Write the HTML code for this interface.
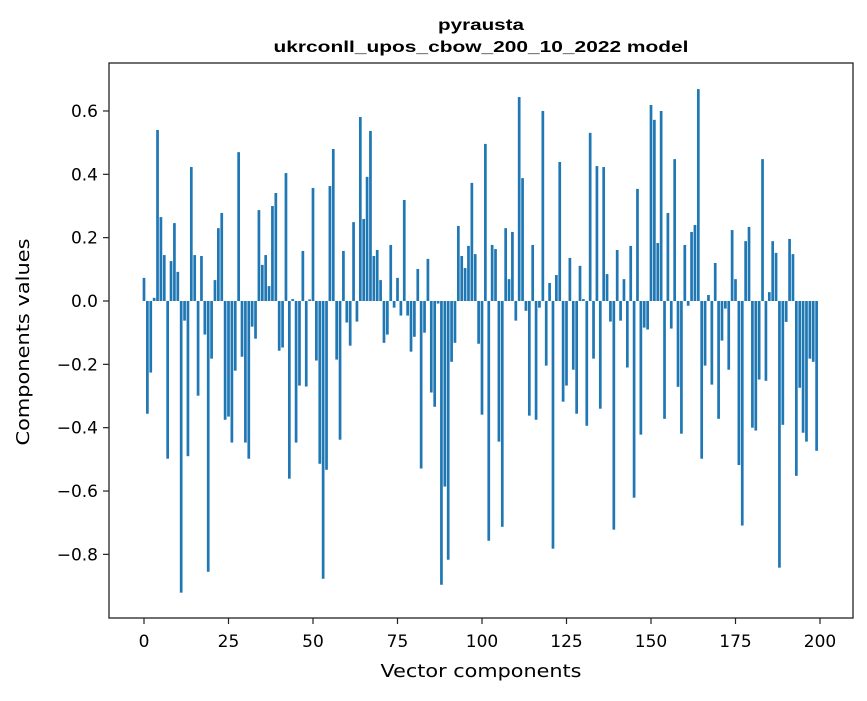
<!DOCTYPE html>
<html><head><meta charset="utf-8"><style>
body{margin:0;background:#fff;}
svg text{font-family:"DejaVu Sans","Liberation Sans",sans-serif;fill:#000;}
svg text.title{font-family:"Liberation Sans","DejaVu Sans",sans-serif;font-weight:bold;}
</style></head><body>
<svg id="chart" width="867" height="696" xmlns="http://www.w3.org/2000/svg">
<rect width="867" height="696" fill="#fff"/>
<text class="title" x="481" y="30" text-anchor="middle" font-size="15.5" textLength="86" lengthAdjust="spacingAndGlyphs">pyrausta</text>
<text class="title" x="481" y="52" text-anchor="middle" font-size="15.5" textLength="415" lengthAdjust="spacingAndGlyphs">ukrconll_upos_cbow_200_10_2022 model</text>
<g id="bars"></g>
<rect x="109" y="63" width="744" height="555" fill="none" stroke="#222" stroke-width="1.3"/>
<g id="xticks"></g>
<g id="yticks"></g>
<text x="481" y="677" text-anchor="middle" font-size="18" textLength="201" lengthAdjust="spacingAndGlyphs">Vector components</text>
<text transform="translate(29,342) rotate(-90)" text-anchor="middle" font-size="18" textLength="207" lengthAdjust="spacingAndGlyphs">Components values</text>
</svg>
<script>
const values = [0.073,-0.356,-0.226,0.01,0.54,0.265,0.145,-0.498,0.126,0.246,
0.092,-0.921,-0.062,-0.49,0.423,0.145,-0.299,0.142,-0.106,-0.855,
-0.182,0.066,0.23,0.278,-0.375,-0.365,-0.447,-0.22,0.47,-0.176,
-0.447,-0.498,-0.081,-0.119,0.287,0.114,0.145,0.047,0.3,0.341,
-0.157,-0.147,0.404,-0.561,0.006,-0.447,-0.267,0.158,-0.27,0.005,
0.357,-0.188,-0.514,-0.877,-0.533,0.363,0.48,-0.185,-0.438,0.158,
-0.068,-0.141,0.249,-0.065,0.581,0.259,0.392,0.537,0.142,0.161,
0.066,-0.132,-0.106,0.177,-0.021,0.073,-0.046,0.319,-0.046,-0.16,
-0.113,0.101,-0.529,-0.1,0.133,-0.289,-0.334,-0.008,-0.896,-0.586,
-0.817,-0.192,-0.132,0.237,0.142,0.104,0.174,0.373,0.148,-0.135,
-0.359,0.496,-0.757,0.177,0.164,-0.444,-0.713,0.23,0.069,0.218,
-0.062,0.644,0.388,-0.031,-0.362,0.177,-0.375,-0.021,0.6,-0.204,
0.057,-0.782,0.082,0.439,-0.318,-0.267,0.136,-0.217,-0.356,0.111,
0.006,-0.394,0.531,-0.182,0.426,-0.34,0.423,0.085,-0.065,-0.722,
0.161,-0.062,0.069,-0.21,0.174,-0.621,0.354,-0.422,-0.084,-0.09,
0.619,0.572,0.183,0.6,-0.372,0.278,-0.087,0.448,-0.271,-0.419,
0.177,-0.015,0.218,0.24,0.669,-0.498,-0.204,0.019,-0.264,0.12,
-0.372,-0.125,-0.024,-0.217,0.224,0.069,-0.518,-0.709,0.189,0.234,
-0.4,-0.409,-0.248,0.448,-0.252,0.028,0.189,0.152,-0.842,-0.391,
-0.066,0.196,0.148,-0.552,-0.274,-0.416,-0.444,-0.182,-0.192,-0.473];
const xTickValues = [0,25,50,75,100,125,150,175,200];
const yTickValues = [-0.8,-0.6,-0.4,-0.2,0.0,0.2,0.4,0.6];

const NS = "http://www.w3.org/2000/svg";
function xs(i){ return 144 + i*3.38; }
function ys(v){ return 301 - v*316.7; }

const bars = document.getElementById('bars');
values.forEach((v,i)=>{
  const r = document.createElementNS(NS,'rect');
  
  
  const w = 3.38*0.8;
  r.setAttribute('x', xs(i)-w/2);
  r.setAttribute('y', Math.min(ys(v), ys(0)));
  r.setAttribute('width', w);
  r.setAttribute('height', Math.abs(ys(v)-ys(0)));
  r.setAttribute('fill', '#1f77b4');
  bars.appendChild(r);
});

const xt = document.getElementById('xticks');
xTickValues.forEach(t=>{
  const l = document.createElementNS(NS,'line');
  
  
  l.setAttribute('x1', xs(t)); l.setAttribute('x2', xs(t));
  l.setAttribute('y1', 618); l.setAttribute('y2', 624);
  l.setAttribute('stroke', '#222');
  l.setAttribute('stroke-width', '1.2');
  xt.appendChild(l);
  const tx = document.createElementNS(NS,'text');
  
  
  tx.setAttribute('x', xs(t)); tx.setAttribute('y', 647);
  tx.setAttribute('text-anchor', 'middle');
  tx.setAttribute('font-size', '17');
  tx.textContent = String(t);
  xt.appendChild(tx);
});

const yt = document.getElementById('yticks');
yTickValues.forEach(t=>{
  const l = document.createElementNS(NS,'line');
  
  
  l.setAttribute('x1', 103); l.setAttribute('x2', 109);
  l.setAttribute('y1', ys(t)); l.setAttribute('y2', ys(t));
  l.setAttribute('stroke', '#222');
  l.setAttribute('stroke-width', '1.2');
  yt.appendChild(l);
  const tx = document.createElementNS(NS,'text');
  
  
  tx.setAttribute('x', 98); tx.setAttribute('y', ys(t)+6);
  tx.setAttribute('text-anchor', 'end');
  tx.setAttribute('font-size', '17');
  tx.textContent = (t<0?'\u2212':'') + Math.abs(t).toFixed(1);
  yt.appendChild(tx);
});
</script>
</body></html>
